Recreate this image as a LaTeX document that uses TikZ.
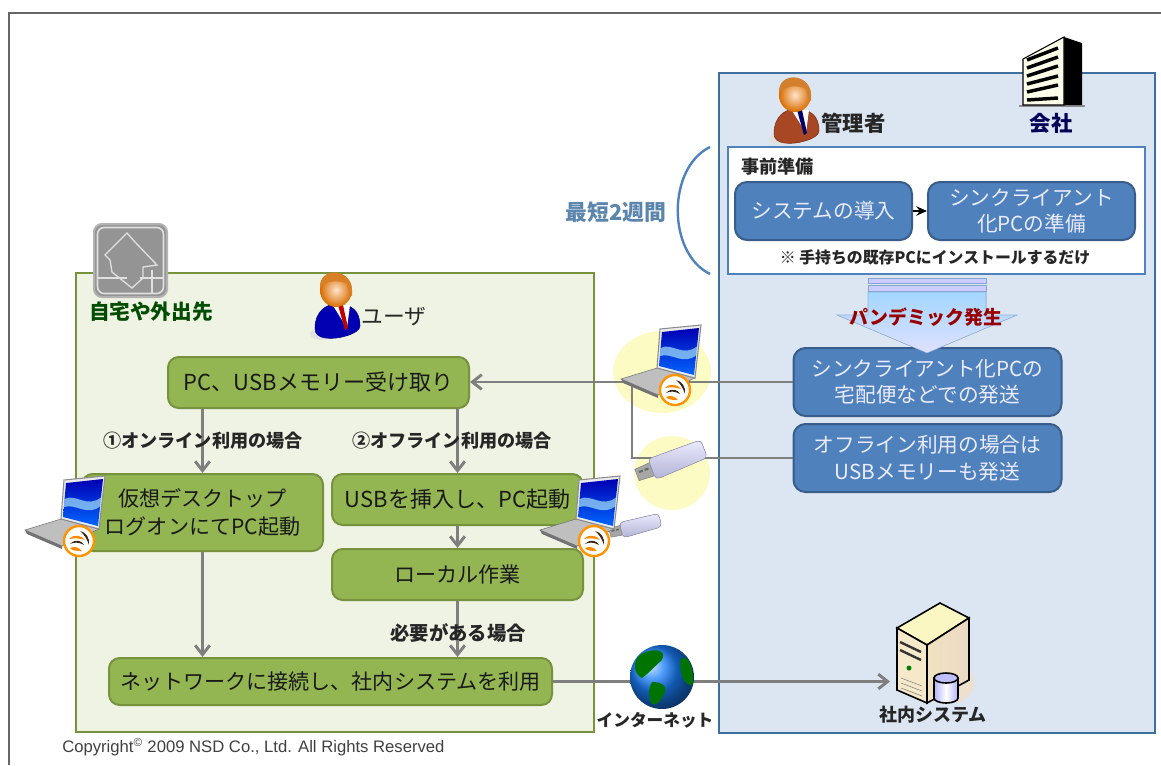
\documentclass[tikz,border=0pt]{standalone}
\usepackage{fontspec}
\setmainfont{Noto Sans CJK JP}
\newfontfamily\latinfont{Liberation Sans}
\usetikzlibrary{arrows.meta}

\definecolor{panelblue}{HTML}{DCE6F2}
\definecolor{edgeblue}{HTML}{3F6F9F}
\definecolor{boxblue}{HTML}{4F81BD}
\definecolor{boxedge}{HTML}{385D8A}
\definecolor{panelgreen}{HTML}{EFF3E4}
\definecolor{edgegreen}{HTML}{76923C}
\definecolor{boxgreen}{HTML}{93B552}
\definecolor{flowgray}{HTML}{7F7F7F}
\definecolor{softyellow}{HTML}{FDFBC4}

\tikzset{
  bluebox/.style={draw=boxedge, line width=1.5pt, fill=boxblue, rounded corners=9pt, align=center,
    text=white!92!blue, font=\fontsize{15.5}{20}\selectfont},
  greenbox/.style={draw=edgegreen, line width=1.5pt, fill=boxgreen, rounded corners=8pt, align=center,
    text=black!90, font=\fontsize{15.8}{21}\selectfont},
  flowarrow/.style={draw=flowgray, line width=2.2pt, -{Straight Barb[length=7pt,width=11pt]}},
  flowline/.style={draw=flowgray, line width=2.2pt},
  caption/.style={font=\bfseries\fontsize{13.6}{15}\selectfont, text=black!85},
  pics/badge/.style={code={
    \draw[orange!85!yellow, line width=1.8pt, fill=white] (0,0) circle (15);
    \fill[orange!90!yellow] (-10,-2) .. controls (-4,-8) and (3,-5) .. (6,-1) .. controls (0,-3) and (-5,-3) .. (-10,-2);
    \fill[black!70!brown] (-9,3) .. controls (-3,-3) and (3,0) .. (5,4) .. controls (0,1) and (-5,1) .. (-9,3);
    \fill[black!70!brown] (1,-10) .. controls (7,-9) and (11,-3) .. (10,4) .. controls (8,-2) and (5,-7) .. (1,-10);
    \fill[orange!90!yellow] (-9,7) .. controls (-5,5) and (0,6) .. (3,10) .. controls (-2,10) and (-7,10) .. (-9,7);
  }},
  pics/laptop/.style={code={
    \filldraw[draw=black!55, fill=black!25] (-54,-11) -- (-18,-22) -- (20,-12) -- (-17,5) -- cycle;
    \fill[black!55] (-54,-11) -- (-17,5) -- (-17,8) -- (-52,-7) -- cycle;
    \filldraw[draw=black!45, line width=0.8pt, fill=black!8] (-15,-61) -- (26,-65) -- (20,-12) -- (-18,-22) -- cycle;
    \shade[top color=blue!70!black, bottom color=blue!60!cyan] (-13,-58) -- (24,-62) -- (19,-15) -- (-16,-24) -- cycle;
    \fill[cyan!35!white, opacity=0.7] (-14.5,-42) .. controls (-3,-48) and (8,-32) .. (22.5,-44) -- (21.5,-35) .. controls (8,-24) and (-3,-38) .. (-15,-34) -- cycle;
    \pic {badge};
  }},
  pics/usbstick/.style={code={
    \filldraw[draw=black!50, fill=black!35] (0,-6) -- (16,-7) -- (16,7) -- (0,6) -- cycle;
    \fill[black!60] (3,-3) rectangle (7,-1) (9,-3) rectangle (13,-1);
    \filldraw[draw=blue!30!black!40, rounded corners=3pt, top color=blue!8!white, bottom color=blue!45!black!30] (16,-11) -- (72,-10) -- (72,9) -- (16,11) -- cycle;
  }},
  pics/person/.style n args={3}{code={
    \fill[black!12] (-14,44) ellipse [x radius=12, y radius=6];
    \filldraw[draw=#1!70!black, fill=#1] (-21,38) .. controls (-21,22) and (-10,14) .. (0,14) .. controls (15,14) and (24,20) .. (24,36) .. controls (24,44) and (0,50) .. (-10,48) .. controls (-18,47) and (-21,44) .. (-21,38) -- cycle;
    \fill[white] (-4,14) -- (14,15) -- (11,38) -- cycle;
    \fill[#2] (2,15) -- (7,15) -- (12,38) -- (9,40) -- cycle;
    \shade[inner color=orange!20!white, outer color=orange!85!black] (0,0) ellipse [x radius=16, y radius=17];
    \fill[#3] (-16,-2) .. controls (-18,-24) and (19,-24) .. (16,6) -- (13,4) -- (11,-6) .. controls (4,-10) and (-10,-10) .. (-16,-2) -- cycle;
  }}
}

\begin{document}
\begin{tikzpicture}[x=0.75pt, y=-0.75pt]
  \useasboundingbox (0,0) rectangle (1161,765);
  \draw[black!60, line width=1.8pt] (9,765) -- (9,13) -- (1161,13);

  % panels
  \node (company) [draw=edgeblue, line width=1.8pt, fill=panelblue, minimum width=327pt, minimum height=495pt] at (937,403) {};
  \node (home) [draw=edgegreen, line width=1.8pt, fill=panelgreen, minimum width=388.5pt, minimum height=344pt] at (335,502.5) {};
  \node (prep) [draw=boxblue, line width=1.8pt, fill=white, minimum width=312.75pt, minimum height=95.25pt] at (936.5,210.5) {};

  % yellow spots
  \fill[softyellow] (662,372) ellipse [x radius=49, y radius=41];
  \fill[softyellow] (672,473) ellipse [x radius=38, y radius=37];

  % boxes
  \node (system) [bluebox, minimum width=132.75pt, minimum height=43.5pt] at (823.5,211) {システムの導入};
  \node (thin) [bluebox, minimum width=155.25pt, minimum height=43.5pt] at (1031.5,211) {シンクライアント\\化PCの準備};
  \node (ship) [bluebox, minimum width=201pt, minimum height=51pt] at (927.5,382) {シンクライアント化PCの\\宅配便などでの発送};
  \node (usbmem) [bluebox, minimum width=201pt, minimum height=51pt] at (927.5,458) {オフライン利用の場合は\\USBメモリーも発送};
  \node (recv) [greenbox, font=\fontsize{16.5}{21}\selectfont, minimum width=225.75pt, minimum height=38.25pt] at (318.5,382.5) {PC、USBメモリー受け取り};
  \node (vdi) [greenbox, minimum width=180.75pt, minimum height=57.75pt] at (202.5,512.5) {仮想デスクトップ\\ログオンにてPC起動};
  \node (insert) [greenbox, font=\fontsize{16.5}{21}\selectfont, inner sep=0pt, minimum width=188.25pt, minimum height=38.25pt] at (457.5,499.5) {USBを挿入し、PC起動};
  \node (local) [greenbox, minimum width=188.25pt, minimum height=38.25pt] at (457.5,574.5) {ローカル作業};
  \node (net) [greenbox, minimum width=332.25pt, minimum height=35.25pt] at (330.5,681.5) {ネットワークに接続し、社内システムを利用};

  \coordinate (branch) at (632,382);
  \coordinate (serverin) at (890,681.5);

  % connectors
  \draw[-{Stealth[length=8pt,width=7pt]}, line width=1.5pt] (system) -- (thin);
  \draw[flowarrow] (ship.west) -- (ship.west -| recv.east);
  \draw[flowline] (usbmem.west) -- (usbmem.west -| branch) -- (branch);
  \draw[flowarrow] (recv.south -| vdi.north) -- (vdi.north);
  \draw[flowarrow] (recv.south -| insert.north) -- (insert.north);
  \draw[flowarrow] (insert) -- (local);
  \draw[flowarrow] (local.south) -- (local.south |- net.north);
  \draw[flowarrow] (vdi.south) -- (vdi.south |- net.north);
  \draw[flowarrow] (net.east) -- (serverin);

  % bracket beside the preparation box
  \coordinate (bracktop) at (710,147);
  \coordinate (brackbot) at (710,274);
  \draw[boxblue, line width=1.8pt] (bracktop) .. controls (667,168) and (667,253) .. (brackbot);
  \node (period) [font=\bfseries\fontsize{16.4}{18}\selectfont, text=edgeblue!85!white] at (616,212) {最短2週間};

  % labels
  \node (preptitle) [caption, anchor=west, inner sep=0pt] at (741,167) {事前準備};
  \node (prepnote) [caption, font=\bfseries\fontsize{11.9}{14}\selectfont] at (935,257) {※ 手持ちの既存PCにインストールするだけ};
  \node (online) [caption] at (203,441) {①オンライン利用の場合};
  \node (offline) [caption] at (452,441) {②オフライン利用の場合};
  \node (ifneed) [caption, font=\bfseries\fontsize{14.5}{16}\selectfont] at (458,633) {必要がある場合};
  \node (homename) [font=\bfseries\fontsize{15.5}{17}\selectfont, text=green!30!black] at (151,312) {自宅や外出先};
  \node (username) [font=\fontsize{16.3}{18}\selectfont, text=black!85] at (394,317) {ユーザ};
  \node (adminname) [font=\bfseries\fontsize{16}{18}\selectfont, text=black!85] at (853.5,123) {管理者};
  \node (companyname) [font=\bfseries\fontsize{16}{18}\selectfont, text=blue!35!black] at (1051,123) {会社};
  \node (netname) [caption, font=\bfseries\fontsize{12.5}{14}\selectfont] at (655,720) {インターネット};
  \node (systemname) [caption, font=\bfseries\fontsize{13.5}{15}\selectfont] at (933,715) {社内システム};
  \node (copyright) [font=\latinfont\fontsize{12.5}{14}\selectfont, text=black!75, anchor=west, inner sep=0pt] at (62,747) {Copyright\textsuperscript{©} 2009 NSD Co., Ltd. All Rights Reserved};

  % block arrow
  \filldraw[draw=boxblue!60!white, top color=blue!20!white!80!cyan, bottom color=blue!12!white] (868,292) -- (986,292) -- (986,315) -- (1017,315) -- (927,353) -- (837,315) -- (868,315) -- cycle;
  \filldraw[draw=boxblue!70!white, fill=blue!20!white] (868,278) rectangle (986,283);
  \filldraw[draw=boxblue!70!white, fill=blue!20!white] (868,285.5) rectangle (986,291);
  \node (pandemic) [font=\bfseries\fontsize{14.2}{16}\selectfont, text=red!60!black] at (926,317) {パンデミック発生};

  % building
  \fill[black!45] (1019,105) rectangle (1085,107);
  \fill[black] (1064,37) -- (1082,43) -- (1082,105) -- (1064,105) -- cycle;
  \filldraw[draw=black, line width=0.8pt, fill=yellow!8!white] (1023,59) -- (1064,37) -- (1064,105) -- (1023,105) -- cycle;
  \foreach \ya/\yb in {60/48, 68/57, 76/66, 84/76, 92/85, 100/98}{
    \draw[black, line width=2.6pt] (1027,\ya) -- (1058,\yb);
  }

  % people
  \pic (adminpic) at (795,95) {person={brown!70!red!80!black}{blue!40!black}{brown!70!orange}};
  \pic (userpic) at (336,290) {person={blue!70!black}{red!75!black}{brown!60!orange}};

  % house
  \filldraw[draw=black!30, line width=1.5pt, fill=black!42, rounded corners=6pt] (94,224) rectangle (167,297);
  \draw[white!88!black, line width=1.2pt, rounded corners=5pt] (97.5,227.5) rectangle (163.5,293.5);
  \draw[white!88!black, line width=1pt] (105,255) -- (127,233) -- (135,242) -- (157,265) -- (143,267) -- (143,278) -- (132,288) -- (112,272) -- (110,260) -- cycle;
  \draw[white!88!black, line width=1pt] (97,278) -- (127,278) (140,278) -- (163,278) (152,270) -- (152,293);

  % devices
  \pic (laptopa) at (675,390) {laptop};
  \pic (sticka) [rotate=21] at (637,475) {usbstick};
  \pic (stickb) [rotate=14, scale=0.72] at (610,533) {usbstick};
  \pic (laptopb) at (79,541) {laptop};
  \pic (laptopc) at (594,541) {laptop};

  % globe
  \node (globe) [circle, minimum size=48pt, inner sep=0pt, ball color=blue!55!cyan!90!white] at (662,677) {};
  \fill[green!45!black] (640,655) .. controls (650,648) and (668,648) .. (662,660) .. controls (655,666) and (650,672) .. (642,678) .. controls (634,674) and (632,662) .. (640,655) -- cycle;
  \fill[green!45!black] (652,682) .. controls (664,682) and (668,688) .. (664,694) .. controls (660,702) and (656,706) .. (652,704) .. controls (648,696) and (648,688) .. (652,682) -- cycle;
  \fill[green!45!black] (680,660) .. controls (688,652) and (694,668) .. (693,684) .. controls (688,688) and (680,680) .. (680,660) -- cycle;

  % server
  \fill[brown!25!white] (955,660) .. controls (985,672) and (975,700) .. (955,703) -- cycle;
  \filldraw[draw=black, line width=1.2pt, fill=brown!25!yellow!25!white] (897,628) -- (940,603) -- (969,618) -- (927,645) -- cycle;
  \filldraw[draw=black, line width=1.2pt, left color=yellow!25!brown!30!white, right color=brown!30!white] (927,645) -- (969,618) -- (969,680) -- (927,703) -- cycle;
  \filldraw[draw=black, line width=1.2pt, fill=yellow!30!brown!25!white] (897,628) -- (927,645) -- (927,703) -- (897,690) -- cycle;
  \foreach \yo in {642,650}{
    \draw[black!80, line width=1.8pt] (900,\yo) -- (921,\yo+10);
  }
  \fill[green!50!black] (909,668) circle (2.5);
  \foreach \yo in {678,683,688}{
    \draw[black!50] (901,\yo) -- (922,\yo+8);
  }
  \filldraw[draw=black, line width=1.2pt, left color=blue!30!white, right color=blue!30!white, middle color=white] (934,678) -- (934,698) arc (180:0:12 and 5) -- (958,678) -- cycle;
  \filldraw[draw=black, line width=1.2pt, fill=blue!25!white] (946,678) ellipse [x radius=12, y radius=5];
\end{tikzpicture}
\end{document}
